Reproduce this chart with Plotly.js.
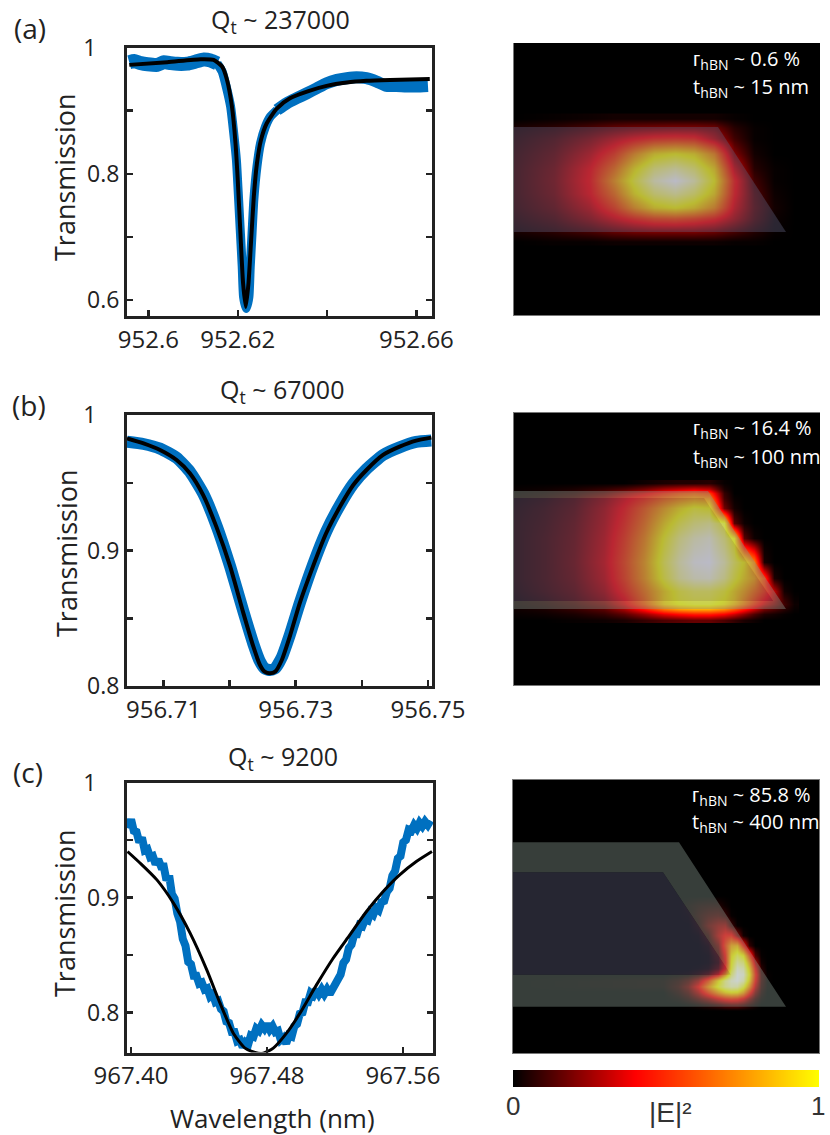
<!DOCTYPE html>
<html>
<head>
<meta charset="utf-8">
<script src="https://cdn.plot.ly/plotly-3.0.1.min.js"></script>
<style>html, body {margin: 0; padding: 0; background: #fff;}</style>
</head>
<body>
<div id="chart" style="width:830px;height:1135px"></div>
<script>
// (a) measured transmission in three pieces since the band is wider on the flat parts
const leftAx = [952.5957,952.5968,952.5983,952.5998,952.6020,952.6035,952.6050,952.6065,952.6087,952.6106,952.6124,952.6139,952.6154]
const leftAy = [.9768,.9785,.9752,.9735,.9725,.9768,.9752,.9741,.9745,.9778,.9810,.9795,.9748]
const dipAx = [952.6154,952.6165,952.6176,952.6184,952.6191,952.6197,952.6202,952.6206,952.6210,952.6213,952.6219,952.6225,952.6228,952.6232,952.6236,952.6243,952.6251,952.6262,952.6273,952.6288]
const dipAy = [.9748,.9620,.9329,.9065,.8642,.8219,.7585,.7057,.6528,.6053,.5868,.6053,.6528,.7057,.7585,.8114,.8483,.8748,.8906,.9012]
const rightAx = [952.6288,952.6310,952.6332,952.6355,952.6377,952.6399,952.6422,952.6444,952.6466,952.6488,952.6511,952.6533,952.6555,952.6578,952.6600,952.6626]
const rightAy = [.9012,.9118,.9197,.9276,.9355,.9435,.9487,.9514,.9530,.9514,.9461,.9392,.9392,.9382,.9382,.9392]
const fitAx = [952.5957,952.6042,952.6117,952.6146,952.6165,952.6176,952.6187,952.6195,952.6200,952.6206,952.6212,952.6218,952.6224,952.6230,952.6236,952.6243,952.6252,952.6265,952.6288,952.6317,952.6355,952.6399,952.6444,952.6488,952.6541,952.6630]
const fitAy = [.9725,.9768,.9815,.9804,.9699,.9487,.9065,.8483,.7902,.7057,.6264,.5894,.6264,.6951,.7638,.8166,.8536,.8801,.9038,.9197,.9303,.9392,.9445,.9472,.9487,.9503]

// (b)
const waveB = [956.7045,956.7070,956.7095,956.7120,956.7140,956.7160,956.7180,956.7201,956.7221,956.7236,956.7246,956.7253,956.7261,956.7269,956.7279,956.7291,956.7306,956.7326,956.7346,956.7367,956.7387,956.7407,956.7432,956.7457,956.7482,956.7505]
const dataBy = [.9803,.9786,.9752,.9685,.9582,.9422,.9188,.8881,.8549,.8310,.8180,.8130,.8118,.8130,.8212,.8376,.8610,.8893,.9139,.9336,.9491,.9601,.9705,.9761,.9801,.9811]
const fitBy = [.9828,.9791,.9742,.9668,.9570,.9410,.9176,.8881,.8536,.8290,.8155,.8106,.8094,.8106,.8192,.8364,.8610,.8881,.9127,.9324,.9483,.9594,.9705,.9766,.9811,.9833]

const dataCx = [967.3985,967.4001,967.4017,967.4033,967.4049,967.4065,967.4081,967.4097,967.4113,967.4129,967.4145,967.4161,967.4177,967.4193,967.4209,967.4225,967.4241,967.4257,967.4273,967.4289,967.4305,967.4321,967.4337,967.4353,967.4369,967.4385,967.4401,967.4417,967.4433,967.4449,967.4465,967.4481,967.4497,967.4513,967.4529,967.4545,967.4561,967.4577,967.4593,967.4609,967.4625,967.4641,967.4657,967.4673,967.4689,967.4705,967.4721,967.4737,967.4753,967.4769,967.4785,967.4801,967.4817,967.4833,967.4849,967.4865,967.4881,967.4897,967.4913,967.4929,967.4945,967.4961,967.4977,967.4993,967.5009,967.5025,967.5041,967.5057,967.5073,967.5089,967.5105,967.5121,967.5137,967.5153,967.5169,967.5185,967.5201,967.5217,967.5233,967.5249,967.5265,967.5281,967.5297,967.5313,967.5329,967.5345,967.5361,967.5377,967.5393,967.5409,967.5425,967.5441,967.5457,967.5473,967.5489,967.5505,967.5521,967.5537,967.5553,967.5569,967.5585,967.5601,967.5617,967.5633,967.5649,967.5665,967.5681,967.5697,967.5713,967.5729,967.5745,967.5761]
const dataCy = [.960,.968,.958,.957,.948,.952,.941,.942,.935,.936,.929,.933,.927,.927,.915,.919,.903,.899,.886,.879,.864,.858,.844,.842,.832,.832,.825,.826,.820,.821,.814,.816,.809,.810,.803,.801,.792,.791,.783,.783,.775,.776,.770,.774,.772,.780,.779,.786,.784,.789,.786,.790,.785,.788,.783,.784,.776,.778,.773,.780,.779,.788,.790,.799,.800,.809,.809,.817,.815,.820,.816,.820,.816,.820,.816,.821,.822,.831,.833,.843,.846,.856,.859,.868,.868,.876,.875,.881,.880,.887,.885,.891,.889,.896,.897,.905,.908,.919,.923,.934,.936,.948,.950,.959,.958,.963,.960,.965,.962,.966,.963,.967]
const fitCx = [967.3980,967.4055,967.4153,967.4250,967.4348,967.4446,967.4524,967.4602,967.4671,967.4730,967.4778,967.4837,967.4915,967.4994,967.5091,967.5189,967.5287,967.5385,967.5483,967.5580,967.5678,967.5770]
const fitCy = [.9400,.9298,.9153,.8951,.8690,.8371,.8081,.7820,.7690,.7652,.7646,.7690,.7820,.7994,.8240,.8472,.8675,.8878,.9052,.9197,.9313,.9400]

// tick labels, unlabelled marks go in as minor ticks
const ticksAx = [952.6, 952.62, 952.66]
const labelsAx = ["952.6", "952.62", "952.66"]
const minorAx = [952.64]
const ticksAy = [0.6, 0.8, 1]
const labelsAy = ["0.6", "0.8", "1\u2002\u2002"]
const minorAy = [0.7, 0.9]
const ticksBx = [956.71, 956.73, 956.75]
const labelsBx = ["956.71", "956.73", "956.75"]
const minorBx = [956.72, 956.74]
const ticksCx = [967.40, 967.48, 967.56]
const labelsCx = ["967.40", "967.48", "967.56"]
const ticksBCy = [0.8, 0.9, 1]
const labelsBCy = ["0.8", "0.9", "1\u2002\u2002"]
const minorBCy = [0.85, 0.95]

// |E|^2 maps in percent of the colorbar (above 100 goes toward white), panel pixels
const fieldAx = [0,40,76,100,120,140,161,180,200,220,240,260,280]
const fieldAy = [75,84,95,110,125,137,150,164,175,189,198]
const fieldAz = [
  [0,1,2,3,3,3,3,3,3,1,0,0,0],
  [4,7,12,16,18,19,20,20,18,6,1,0,0],
  [6,12,22,32,40,46,48,46,30,10,1,0,0],
  [8,16,32,50,74,94,100,94,72,20,3,0,0],
  [9,19,40,66,96,118,126,116,92,34,6,1,0],
  [9,20,42,76,106,130,140,128,100,44,10,1,0],
  [9,19,40,66,96,116,124,114,92,42,13,2,0],
  [8,16,32,52,76,94,100,92,74,36,14,3,0],
  [6,12,24,36,46,54,56,52,44,28,12,2,0],
  [3,6,10,14,16,17,17,17,15,10,5,1,0],
  [0,1,1,2,2,2,2,2,2,1,1,0,0]
]
const fieldBx = [0,30,60,90,110,130,150,165,180,195,210,220,230,240,250,260,270,280]
const fieldBy = [70,76,80,85,95,110,125,149,165,178,186,191,196,201,207]
const fieldBz = [
  [0,0,0,0,0,2,4,5,5,6,1,0,0,0,0,0,0,0],
  [1,2,4,8,12,18,26,30,34,30,4,0,0,0,0,0,0,0],
  [2,4,8,16,26,36,48,56,60,55,8,0,0,0,0,0,0,0],
  [3,6,12,24,36,48,62,70,76,72,10,1,0,0,0,0,0,0],
  [4,8,14,28,42,60,80,94,104,100,18,3,0,0,0,0,0,0],
  [5,9,16,30,46,66,92,108,118,122,105,14,2,0,0,0,0,0],
  [5,10,17,32,50,72,102,120,130,134,118,98,14,2,0,0,0,0],
  [5,10,18,34,54,78,110,128,138,140,128,112,98,70,4,0,0,0],
  [5,10,17,32,52,76,106,124,132,134,122,106,92,80,54,4,0,0],
  [4,9,15,28,46,68,92,106,112,112,104,92,80,66,52,30,3,0],
  [3,7,13,24,40,64,92,104,108,108,100,90,74,58,42,28,8,1],
  [3,6,11,20,36,60,90,100,104,104,96,84,68,50,34,22,10,2],
  [2,4,8,14,26,44,66,76,80,80,72,60,46,32,18,12,6,1],
  [1,2,4,8,14,24,36,42,46,46,40,32,22,12,5,3,1,0],
  [0,0,1,2,4,8,12,14,16,16,12,8,4,2,0,0,0,0]
]
const fieldCx = [0,150,165,175,185,195,205,212,218,224,230,236,242,248,254,260,266,272]
const fieldCy = [115,125,135,145,155,165,175,182,188,194,200,206,212,218,224,230]
const fieldCz = [
  [0,0,0,0,0,0,0,0,0,0,0,0,0,0,0,0,0,0],
  [0,0,0,2,4,5,5,2,0,0,0,0,0,0,0,0,0,0],
  [0,0,0,1,6,10,12,8,1,0,0,0,0,0,0,0,0,0],
  [0,0,0,0,4,16,24,26,10,1,0,0,0,0,0,0,0,0],
  [0,0,0,0,1,8,30,42,44,22,3,0,0,0,0,0,0,0],
  [0,0,0,0,0,3,18,52,80,84,44,8,0,0,0,0,0,0],
  [0,0,0,0,0,1,10,42,95,112,100,55,12,1,0,0,0,0],
  [0,0,0,0,0,1,8,38,100,125,118,78,28,3,0,0,0,0],
  [0,0,0,0,1,3,14,44,105,135,130,92,40,7,0,0,0,0],
  [0,0,1,2,6,14,36,75,118,140,136,100,46,10,1,0,0,0],
  [0,2,6,12,26,55,95,122,135,140,130,92,42,10,1,0,0,0],
  [0,2,8,18,40,75,105,122,130,128,108,74,32,8,1,0,0,0],
  [0,0,5,12,28,52,76,90,96,94,78,48,20,5,0,0,0,0],
  [0,0,2,6,14,24,38,46,50,48,38,22,9,2,0,0,0,0],
  [0,0,0,1,3,6,10,14,16,16,12,7,3,0,0,0,0,0],
  [0,0,0,0,0,0,0,0,0,0,0,0,0,0,0,0,0,0]
]
const barValues = [0,10,20,30,40,50,60,70,80,90,100]

// waveguide outlines, panel pixels
const coreAx = [0,204,272,0,0]
const coreAy = [84,84,189,189,84]
const coreBx = [0,190,259,0,0]
const coreBy = [85,85,188,188,85]
const bandBx = [0,194,272,0,0,259,190,0,0]
const bandBy = [78,78,196,196,188,188,85,85,78]
const coreCx = [0,150,218,0,0]
const coreCy = [92,92,194,194,92]
const bandCx = [0,166,273,0,0,218,150,0,0]
const bandCy = [62,62,226,226,194,194,92,92,62]

const W = 830, H = 1135
const FONT = "Open Sans, sans-serif"
const INK = "#222222"
const BLUE = "#0070c0"
const heat = [[0, "#000000"], [40 / 140, "#ff0000"], [100 / 140, "#ffff00"], [1, "#ffffff"]]
const CORE = "rgba(90,90,119,0.42)"
const BAND = "rgba(131,148,138,0.42)"

const domY = (top, bottom) => [1 - bottom / H, 1 - top / H]
const tickStyle = {ticks: "inside", ticklen: 6, tickwidth: 2.5, tickcolor: INK}

const lineX = (anchor, left, right, range, vals, text, minor) => ({
  anchor, domain: [left / W, right / W], range, tickmode: "array", tickvals: vals, ticktext: text,
  ...tickStyle, minor: {tickmode: "array", tickvals: minor || [], showgrid: false, ...tickStyle},
  showline: true, linewidth: 3, linecolor: INK, mirror: true, showgrid: false, zeroline: false,
  tickfont: {family: FONT, size: 24, color: INK}
})
const lineY = (anchor, top, bottom, range, vals, text, minor) => ({
  anchor, domain: domY(top, bottom), range, tickmode: "array", tickvals: vals, ticktext: text,
  ...tickStyle, minor: {tickmode: "array", tickvals: minor, showgrid: false, ...tickStyle},
  showline: true, linewidth: 3, linecolor: INK, mirror: "ticks", showgrid: false, zeroline: false,
  tickfont: {family: FONT, size: 23, color: INK}
})
const mapX = (anchor, left, right, range, mirror) => ({
  anchor, domain: [left / W, right / W], range, showticklabels: false, ticks: "", showgrid: false, zeroline: false,
  showline: true, linewidth: 1, linecolor: "#777777", mirror
})
const mapY = (anchor, top, bottom, range, mirror) => ({
  anchor, domain: domY(top, bottom), range, showticklabels: false, ticks: "", showgrid: false, zeroline: false,
  showline: true, linewidth: 1, linecolor: "#777777", mirror
})

const measured = (x, y, axis, width, clip, shape) => ({
  x, y, xaxis: "x" + axis, yaxis: "y" + axis, type: "scatter", mode: "lines", cliponaxis: clip,
  line: {color: BLUE, width, shape, smoothing: 0.5}, hoverinfo: "skip"
})
const fitted = (x, y, axis, width) => ({
  x, y, xaxis: "x" + axis, yaxis: "y" + axis, type: "scatter", mode: "lines", cliponaxis: axis === 3,
  line: {color: "#000000", width, shape: "spline", smoothing: 0.6}, hoverinfo: "skip"
})
const field = (x, y, z, axis) => ({
  x, y, z, xaxis: "x" + axis, yaxis: "y" + axis, type: "heatmap", zsmooth: "best",
  colorscale: heat, zmin: 0, zmax: 140, showscale: false, hoverinfo: "skip"
})
const outline = (x, y, axis, color) => ({
  x, y, xaxis: "x" + axis, yaxis: "y" + axis, type: "scatter", mode: "lines", fill: "toself", fillcolor: color,
  line: {width: 0, color}, hoverinfo: "skip"
})

const data = [
  measured(leftAx, leftAy, 1, 14, false, "spline"), measured(dipAx, dipAy, 1, 9, false, "spline"),
  measured(rightAx, rightAy, 1, 12, false, "spline"), fitted(fitAx, fitAy, 1, 4),
  measured(waveB, dataBy, 2, 12, false, "spline"), fitted(waveB, fitBy, 2, 4),
  measured(dataCx, dataCy, 3, 8, true, "linear"), fitted(fitCx, fitCy, 3, 3),
  field(fieldAx, fieldAy, fieldAz, 4), outline(coreAx, coreAy, 4, CORE),
  field(fieldBx, fieldBy, fieldBz, 5), outline(bandBx, bandBy, 5, BAND), outline(coreBx, coreBy, 5, CORE),
  field(fieldCx, fieldCy, fieldCz, 6), outline(bandCx, bandCy, 6, BAND), outline(coreCx, coreCy, 6, CORE),
  {x: barValues, y: [0, 1], z: [barValues, barValues], xaxis: "x7", yaxis: "y7", type: "heatmap", zsmooth: "best",
    colorscale: heat, zmin: 0, zmax: 140, showscale: false, hoverinfo: "skip"}
]

const note = (text, px, py, size, extra) => Object.assign({
  text, x: px / W, y: 1 - py / H, xref: "paper", yref: "paper", xanchor: "center", yanchor: "middle",
  showarrow: false, font: {family: FONT, size, color: INK}
}, extra || {})
const white = {xanchor: "left", font: {family: FONT, size: 20, color: "#ffffff"}}
const arial = {font: {family: "Liberation Sans, sans-serif", size: 26, color: "#333333"}}
const arialBig = {font: {family: "Liberation Sans, sans-serif", size: 28, color: "#333333"}}
const vertical = {textangle: -90}

const annotations = [
  note("(a)", 30, 28, 28), note("(b)", 29, 405, 28), note("(c)", 28, 772, 28),
  note("Q<sub>t</sub> ~ 237000", 280, 20, 25), note("Q<sub>t</sub> ~ 67000", 282, 390, 25), note("Q<sub>t</sub> ~ 9200", 283, 757, 25),
  note("Transmission", 64, 177, 27, vertical), note("Transmission", 66, 553, 27, vertical), note("Transmission", 64, 913, 27, vertical),
  note("Wavelength (nm)", 272, 1118, 26),
  note("\u1D26<sub>hBN</sub> ~ 0.6 %", 691, 60, 20, white), note("t<sub>hBN</sub> ~ 15 nm", 691, 87, 20, white),
  note("\u1D26<sub>hBN</sub> ~ 16.4 %", 691, 428, 20, white), note("t<sub>hBN</sub> ~ 100 nm", 691, 457, 20, white),
  note("\u1D26<sub>hBN</sub> ~ 85.8 %", 690, 795, 20, white), note("t<sub>hBN</sub> ~ 400 nm", 690, 822, 20, white),
  note("0", 513, 1106, 26, arial), note("1", 818, 1106, 26, arial), note("|E|\u00B2", 670, 1112, 28, arialBig)
]

const blackBox = axis => ({type: "rect", xref: "x" + axis + " domain", yref: "y" + axis + " domain", x0: 0, x1: 1, y0: 0, y1: 1,
  fillcolor: "#000000", line: {width: 0}, layer: "below"})

const layout = {
  width: W, height: H, margin: {l: 0, r: 0, t: 0, b: 0}, showlegend: false,
  paper_bgcolor: "#ffffff", plot_bgcolor: "rgba(0,0,0,0)",
  xaxis: lineX("y", 127, 432, [952.5952, 952.6635], ticksAx, labelsAx, minorAx),
  yaxis: lineY("x", 47.5, 316, [0.575, 1], ticksAy, labelsAy, minorAy),
  xaxis2: lineX("y2", 127, 432, [956.7045, 956.7506], ticksBx, labelsBx, minorBx),
  yaxis2: lineY("x2", 415, 686, [0.8, 1], ticksBCy, labelsBCy, minorBCy),
  xaxis3: lineX("y3", 127, 433, [967.3977, 967.5776], ticksCx, labelsCx),
  yaxis3: lineY("x3", 782.5, 1052.5, [0.7652, 1], ticksBCy, labelsBCy, minorBCy),
  xaxis4: mapX("y4", 514, 820, [0, 306], false), yaxis4: mapY("x4", 43, 315, [272, 0], false),
  xaxis5: mapX("y5", 514, 820, [0, 306], true), yaxis5: mapY("x5", 413, 685, [272, 0], false),
  xaxis6: mapX("y6", 513, 819, [0, 306], true), yaxis6: mapY("x6", 780, 1053, [272, 0], true),
  xaxis7: Object.assign(mapX("y7", 513, 819, [0, 100], false), {showline: false}),
  yaxis7: Object.assign(mapY("x7", 1070, 1087, [0, 1], false), {showline: false}),
  shapes: [blackBox(4), blackBox(5), blackBox(6)],
  annotations
}

Plotly.newPlot("chart", data, layout, {displayModeBar: false, staticPlot: true})
</script>
</body>
</html>
